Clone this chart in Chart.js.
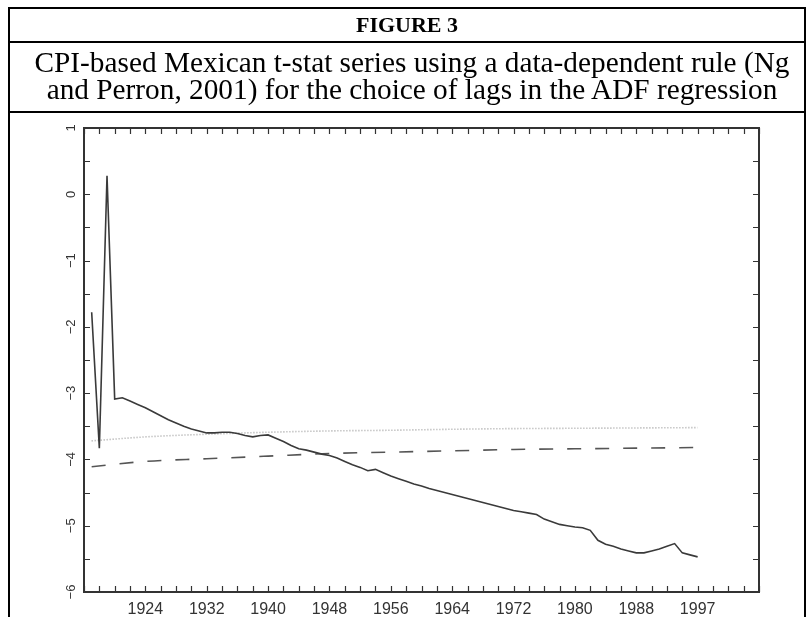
<!DOCTYPE html>
<html>
<head>
<meta charset="utf-8">
<script src="https://cdn.jsdelivr.net/npm/chart.js@4.4.0/dist/chart.umd.min.js"></script>
<style>
  html, body { margin: 0; padding: 0; background: #fff; }
  body { width: 807px; height: 617px; position: relative; overflow: hidden; }
  #chartBox { position: absolute; left: 0; top: 0; width: 807px; height: 617px; }
  .vrule { position: absolute; top: 7px; width: 2px; height: 620px; background: #000; }
  .hrule { position: absolute; left: 8px; width: 798px; height: 2px; background: #000; }
  #title {
    position: absolute; left: 10px; width: 794px; top: 9px; height: 32px;
    text-align: center;
    font: bold 22px "Liberation Serif", "Times New Roman", serif; color: #000;
    line-height: 32px;
  }
  #subtitle {
    position: absolute; left: 15px; width: 794px; top: 43px; height: 68px;
    text-align: center; padding-top: 6px; box-sizing: border-box;
    font: 29.3px "Liberation Serif", "Times New Roman", serif; color: #000;
    line-height: 27px;
  }
</style>
</head>
<body>
<div id="chartBox"><canvas id="tChart" width="807" height="617"></canvas></div>
<div class="vrule" style="left:8px"></div>
<div class="vrule" style="left:804px"></div>
<div class="hrule" style="top:7px"></div>
<div class="hrule" style="top:41px"></div>
<div class="hrule" style="top:111px"></div>
<div id="title">FIGURE 3</div>
<div id="subtitle">CPI-based Mexican t-stat series using a data-dependent rule (Ng<br>and Perron, 2001) for the choice of lags in the ADF regression</div>

<script>
// --- data (x in axis units, last tick is labelled 1997) ---
const years = [1917, 1918, 1919, 1920, 1921, 1922, 1923, 1924, 1925, 1926,
    1927, 1928, 1929, 1930, 1931, 1932, 1933, 1934, 1935, 1936,
    1937, 1938, 1939, 1940, 1941, 1942, 1943, 1944, 1945, 1946,
    1947, 1948, 1949, 1950, 1951, 1952, 1953, 1954, 1955, 1956,
    1957, 1958, 1959, 1960, 1961, 1962, 1963, 1964, 1965, 1966,
    1967, 1968, 1969, 1970, 1971, 1972, 1973, 1974, 1975, 1976,
    1977, 1978, 1979, 1980, 1981, 1982, 1983, 1984, 1985, 1986,
    1987, 1988, 1989, 1990, 1991, 1992, 1993, 1994, 1995, 1996];

const tStat = [-1.78, -3.83, 0.28, -3.09, -3.07, -3.12, -3.17, -3.22, -3.28, -3.34,
    -3.40, -3.45, -3.50, -3.54, -3.57, -3.60, -3.60, -3.59, -3.59, -3.61,
    -3.64, -3.66, -3.64, -3.63, -3.68, -3.73, -3.79, -3.84, -3.86, -3.89,
    -3.92, -3.94, -3.98, -4.03, -4.08, -4.12, -4.17, -4.15, -4.20, -4.25,
    -4.29, -4.33, -4.37, -4.40, -4.44, -4.47, -4.50, -4.53, -4.56, -4.59,
    -4.62, -4.65, -4.68, -4.71, -4.74, -4.77, -4.79, -4.81, -4.83, -4.90,
    -4.94, -4.98, -5.00, -5.02, -5.03, -5.07, -5.22, -5.28, -5.31, -5.35,
    -5.38, -5.41, -5.41, -5.38, -5.35, -5.31, -5.27, -5.41, -5.44, -5.47];

// critical value curves
const cvYears = [1917, 1924, 1932, 1940, 1948, 1956, 1964, 1972, 1980, 1988, 1996];
const cvDotted = [-3.72, -3.66, -3.62, -3.59, -3.57, -3.56, -3.545, -3.535, -3.53, -3.525, -3.52];
const cvDashed = [-4.11, -4.03, -3.99, -3.95, -3.91, -3.89, -3.87, -3.85, -3.84, -3.83, -3.82];

// axis ticks
const xTickPositions = [1924, 1932, 1940, 1948, 1956, 1964, 1972, 1980, 1988, 1996];
const xTickLabels = ['1924', '1932', '1940', '1948', '1956', '1964', '1972', '1980', '1988', '1997'];
const yTickValues = [1, 0, -1, -2, -3, -4, -5, -6];

const toPoints = (xs, ys) => xs.map((x, i) => ({ x: x, y: ys[i] }));

// frame + inward tick marks on all four sides
const frameTicks = {
    id: 'frameTicks',
    afterDraw(chart) {
        const { ctx, chartArea: { left, right, top, bottom }, scales: { x, y } } = chart;
        ctx.save();
        ctx.strokeStyle = '#333';
        ctx.lineWidth = 1.2;
        ctx.beginPath();
        x.ticks.forEach(t => {
            const px = Math.round(x.getPixelForValue(t.value)) + 0.5;
            ctx.moveTo(px, bottom); ctx.lineTo(px, bottom - 6);
            ctx.moveTo(px, top); ctx.lineTo(px, top + 6);
        });
        y.ticks.forEach(t => {
            const py = Math.round(y.getPixelForValue(t.value)) + 0.5;
            ctx.moveTo(left, py); ctx.lineTo(left + 6, py);
            ctx.moveTo(right, py); ctx.lineTo(right - 6, py);
        });
        ctx.stroke();
        ctx.lineWidth = 2;
        ctx.strokeRect(left, top, right - left, bottom - top);
        ctx.restore();
    }
};

const ctx = document.getElementById('tChart').getContext('2d');
new Chart(ctx, {
    type: 'line',
    data: {
        datasets: [
            {
                label: 't-stat',
                data: toPoints(years, tStat),
                borderColor: '#3a3a3a',
                borderWidth: 1.6,
                pointRadius: 0,
                tension: 0
            },
            {
                label: 'cv dotted',
                data: toPoints(cvYears, cvDotted),
                borderColor: '#a8a8a8',
                borderWidth: 1.6,
                borderDash: [1, 2],
                pointRadius: 0,
                cubicInterpolationMode: 'monotone'
            },
            {
                label: 'cv dashed',
                data: toPoints(cvYears, cvDashed),
                borderColor: '#555',
                borderWidth: 1.6,
                borderDash: [14, 14],
                pointRadius: 0,
                cubicInterpolationMode: 'monotone'
            }
        ]
    },
    options: {
        responsive: false,
        animation: false,
        layout: { padding: { top: 128, right: 48, left: 0, bottom: 0 } },
        plugins: {
            legend: { display: false },
            tooltip: { enabled: false }
        },
        scales: {
            x: {
                type: 'linear',
                min: 1916,
                max: 2004,
                grid: { display: false, drawTicks: false },
                border: { display: false },
                afterFit: (scale) => { scale.height = 25; },
                ticks: {
                    stepSize: 2,
                    autoSkip: false,
                    maxRotation: 0,
                    padding: 8,
                    color: '#333',
                    font: { family: '"Liberation Sans", Arial, sans-serif', size: 16 },
                    callback: (v) => {
                        const i = xTickPositions.indexOf(Math.round(v));
                        return i >= 0 ? xTickLabels[i] : '';
                    }
                }
            },
            y: {
                min: -6,
                max: 1,
                grid: { display: false, drawTicks: false },
                border: { display: false },
                afterFit: (scale) => { scale.width = 84; },
                ticks: {
                    stepSize: 0.5,
                    autoSkip: false,
                    minRotation: 90,
                    maxRotation: 90,
                    crossAlign: 'center',
                    padding: 5,
                    color: '#333',
                    font: { family: '"Liberation Sans", Arial, sans-serif', size: 13 },
                    callback: (v) => {
                        if (!yTickValues.includes(v)) return '';
                        return v < 0 ? '\u2212' + (-v) : String(v);
                    }
                }
            }
        }
    },
    plugins: [frameTicks]
});
</script>
</body>
</html>
